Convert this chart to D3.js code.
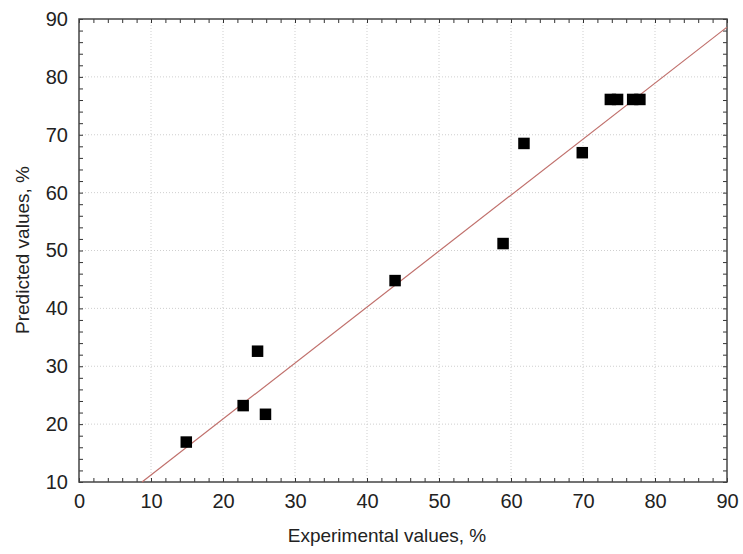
<!DOCTYPE html>
<html>
<head>
<meta charset="utf-8">
<script src="https://cdn.jsdelivr.net/npm/d3@7"></script>
<style>
  body { margin: 0; background: #fff; }
  text { font-family: "Liberation Sans", Arial, sans-serif; fill: #222; }
</style>
</head>
<body>
<div id="chart"></div>
<script>
// measured points (experimental vs predicted)
var experimental = [14.9, 22.8, 24.8, 25.9, 43.9, 58.9, 61.8, 69.9, 73.8, 74.8, 76.9, 77.9];
var predicted    = [16.9, 23.2, 32.6, 21.7, 44.8, 51.2, 68.5, 66.9, 76.1, 76.1, 76.1, 76.1];
// fitted line end points
var fitX = [8.75, 90];
var fitY = [10, 88.6];
var xTicks = [0, 10, 20, 30, 40, 50, 60, 70, 80, 90];
var yTicks = [10, 20, 30, 40, 50, 60, 70, 80, 90];

var width = 743, height = 554,
    plotL = 79, plotR = 727, plotT = 19, plotB = 482;

var svg = d3.select('#chart').append('svg')
  .attr('width', width)
  .attr('height', height);

var x = d3.scaleLinear().domain([0, 90]).range([plotL, plotR]);
var y = d3.scaleLinear().domain([10, 90]).range([plotB, plotT]);

// grid
svg.append('g').selectAll('line')
  .data(xTicks.slice(1, -1))
  .enter().append('line')
  .attr('x1', function(d) { return x(d); })
  .attr('x2', function(d) { return x(d); })
  .attr('y1', plotT).attr('y2', plotB)
  .attr('stroke', '#cfcfcf').attr('stroke-dasharray', '1,2');
svg.append('g').selectAll('line')
  .data(yTicks.slice(1, -1))
  .enter().append('line')
  .attr('y1', function(d) { return y(d); })
  .attr('y2', function(d) { return y(d); })
  .attr('x1', plotL).attr('x2', plotR)
  .attr('stroke', '#cfcfcf').attr('stroke-dasharray', '1,2');

// axes with inward ticks on all sides
var xMinor = d3.range(0, 90.1, 2);
var yMinor = d3.range(10, 90.1, 2);
function styleAxis(g) {
  g.select('.domain').remove();
  g.selectAll('.tick line').attr('stroke', '#333');
  g.selectAll('.tick text').attr('font-size', 20).attr('fill', '#222')
    .style('font-family', '"Liberation Sans", Arial, sans-serif');
}
svg.append('g').attr('transform', 'translate(0,' + plotB + ')')
  .call(d3.axisBottom(x).tickValues(xMinor).tickSize(-4).tickFormat(''))
  .call(styleAxis);
svg.append('g').attr('transform', 'translate(0,' + plotT + ')')
  .call(d3.axisTop(x).tickValues(xMinor).tickSize(-4).tickFormat(''))
  .call(styleAxis);
svg.append('g').attr('transform', 'translate(' + plotL + ',0)')
  .call(d3.axisLeft(y).tickValues(yMinor).tickSize(-4).tickFormat(''))
  .call(styleAxis);
svg.append('g').attr('transform', 'translate(' + plotR + ',0)')
  .call(d3.axisRight(y).tickValues(yMinor).tickSize(-4).tickFormat(''))
  .call(styleAxis);

// tick labels
svg.append('g').attr('transform', 'translate(0,' + plotB + ')')
  .call(d3.axisBottom(x).tickValues(xTicks).tickSize(0).tickPadding(12))
  .call(styleAxis);
svg.append('g').attr('transform', 'translate(' + plotL + ',0)')
  .call(d3.axisLeft(y).tickValues(yTicks).tickSize(0).tickPadding(11))
  .call(styleAxis);

// frame
svg.append('rect')
  .attr('x', plotL).attr('y', plotT)
  .attr('width', plotR - plotL).attr('height', plotB - plotT)
  .attr('fill', 'none').attr('stroke', '#444').attr('stroke-width', 1.5);

// fit line
svg.append('line')
  .attr('x1', x(fitX[0])).attr('y1', y(fitY[0]))
  .attr('x2', x(fitX[1])).attr('y2', y(fitY[1]))
  .attr('stroke', '#c0706c').attr('stroke-width', 1.2);

// points
var s = 11.5;
svg.append('g').selectAll('rect')
  .data(experimental)
  .enter().append('rect')
  .attr('x', function(d) { return x(d) - s / 2; })
  .attr('y', function(d, i) { return y(predicted[i]) - s / 2; })
  .attr('width', s).attr('height', s)
  .attr('fill', '#000');

// axis titles
svg.append('text')
  .attr('x', 387).attr('y', 542)
  .attr('text-anchor', 'middle').attr('font-size', 19)
  .text('Experimental values, %');
svg.append('text')
  .attr('transform', 'translate(29,' + 250 + ') rotate(-90)')
  .attr('text-anchor', 'middle').attr('font-size', 19)
  .text('Predicted values, %');
</script>
</body>
</html>
